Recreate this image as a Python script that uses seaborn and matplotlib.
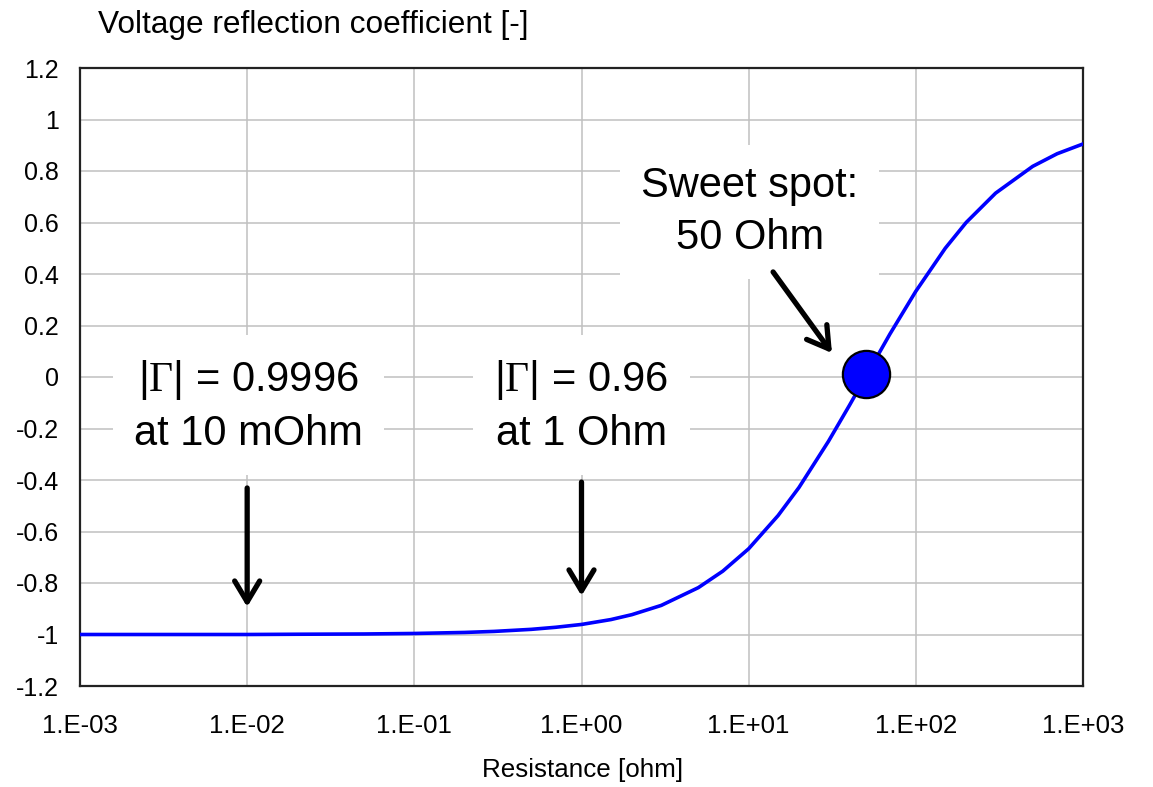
import numpy as np
import pandas as pd
import matplotlib
matplotlib.use("Agg")
import matplotlib.pyplot as plt
import seaborn as sns

# ---- data ----
resistance = [0.001, 0.002, 0.005, 0.01, 0.02, 0.05, 0.1, 0.2, 0.3, 0.5, 0.7, 1.0,
              1.5, 2.0, 3.0, 5.0, 7.0, 10.0, 15.0, 20.0, 30.0, 40.0, 50.0, 70.0,
              100.0, 150.0, 200.0, 300.0, 500.0, 700.0, 1000.0]
gamma = [-1.0, -1.0, -1.0, -1.0, -0.999, -0.998, -0.996, -0.992, -0.988, -0.980,
         -0.972, -0.961, -0.942, -0.923, -0.887, -0.818, -0.754, -0.667, -0.538,
         -0.429, -0.250, -0.111, 0.0, 0.167, 0.333, 0.500, 0.600, 0.714, 0.818,
         0.867, 0.905]
sweet_x = [50.0]
sweet_y = [0.01]
x_ticks = [1e-3, 1e-2, 1e-1, 1e0, 1e1, 1e2, 1e3]
x_tick_labels = ["1.E-03", "1.E-02", "1.E-01", "1.E+00", "1.E+01", "1.E+02", "1.E+03"]
y_ticks = [-1.2, -1.0, -0.8, -0.6, -0.4, -0.2, 0.0, 0.2, 0.4, 0.6, 0.8, 1.0, 1.2]
y_tick_labels = ["-1.2", "-1", "-0.8", "-0.6", "-0.4", "-0.2", "0", "0.2", "0.4",
                 "0.6", "0.8", "1", "1.2"]

df = pd.DataFrame({"R": resistance, "G": gamma})

sns.set_style("white")
plt.rcParams["font.family"] = ["Liberation Sans", "DejaVu Sans"]
plt.rcParams["mathtext.fontset"] = "custom"
plt.rcParams["mathtext.rm"] = "Liberation Serif"
plt.rcParams["mathtext.it"] = "Liberation Serif:italic"
plt.rcParams["text.color"] = "black"
plt.rcParams["xtick.color"] = "black"
plt.rcParams["ytick.color"] = "black"
plt.rcParams["axes.labelcolor"] = "black"

fig = plt.figure(figsize=(11.53, 7.87), dpi=100)
ax = fig.add_axes([80 / 1153, 1 - 686 / 787, 1003 / 1153, 618 / 787])

sns.lineplot(data=df, x="R", y="G", ax=ax, color="#0000ff", linewidth=2.6, zorder=3)
ax.plot(sweet_x, sweet_y, marker="o", markersize=34, markerfacecolor="#0000ff",
        markeredgecolor="black", markeredgewidth=1.6, linestyle="none", zorder=6)

ax.set_xscale("log")
ax.set_xlim(1e-3, 1e3)
ax.set_ylim(-1.2, 1.2)
ax.set_xticks(x_ticks)
ax.set_xticklabels(x_tick_labels)
ax.minorticks_off()
ax.set_yticks(y_ticks)
ax.set_yticklabels(y_tick_labels)
ax.tick_params(axis="x", length=0, pad=20, labelsize=18.5, colors="black")
ax.tick_params(axis="y", length=0, pad=15, labelsize=18, colors="black")

ax.grid(True, color="#c0c0c0", linewidth=1.1, zorder=0)
ax.set_axisbelow(True)
for s in ax.spines.values():
    s.set_color("#222222")
    s.set_linewidth(1.6)
    s.set_visible(True)

ax.set_xlabel("Resistance [ohm]", fontsize=18.7, va="center", color="black")
ax.xaxis.set_label_coords(0.5015, -0.136)
ax.set_ylabel("Voltage reflection coefficient [-]", fontsize=22.8, rotation=0,
              ha="left", va="center", color="black")
ax.yaxis.set_label_coords(0.018, 1.0696)

box = dict(boxstyle="square,pad=0.5", facecolor="white", edgecolor="none")
ax.text(0.0102, -0.113, "|$\\Gamma$| = 0.9996\nat 10 mOhm", fontsize=30,
        ha="center", va="center", bbox=box, zorder=4, linespacing=1.38, color="black")
ax.text(1.0, -0.113, "|$\\Gamma$| = 0.96\nat 1 Ohm", fontsize=30,
        ha="center", va="center", bbox=box, zorder=4, linespacing=1.38, color="black")
ax.text(10 ** 1.006, 0.64, "Sweet spot:\n50 Ohm", fontsize=30,
        ha="center", va="center", bbox=box, zorder=4, linespacing=1.38, color="black")

ap = dict(arrowstyle="->,head_length=0.75,head_width=0.45", lw=3.8, color="black",
          shrinkA=0, shrinkB=0, mutation_scale=20)
ax.annotate("", xy=(0.01, -0.893), xytext=(0.01, -0.431), arrowprops=ap, zorder=5)
ax.annotate("", xy=(1.0, -0.85), xytext=(1.0, -0.408), arrowprops=ap, zorder=5)
ax.annotate("", xy=(31.5, 0.093), xytext=(14.0, 0.408), arrowprops=ap, zorder=5)

fig.savefig("out.png", dpi=100)
